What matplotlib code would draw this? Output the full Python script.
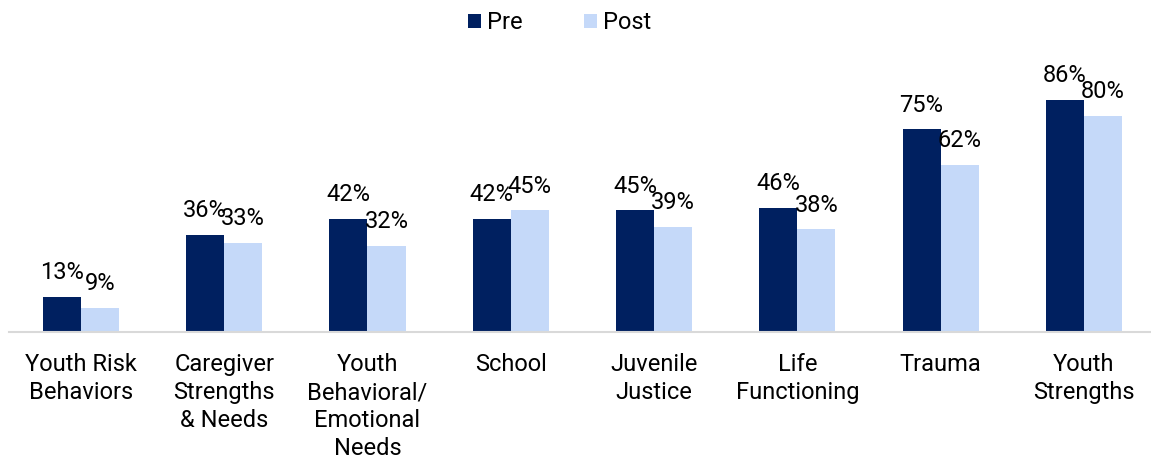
import numpy as np
import matplotlib.pyplot as plt

plt.rcParams['font.family'] = ['Roboto', 'DejaVu Sans']

categories = ['Youth Risk\nBehaviors', 'Caregiver\nStrengths\n& Needs',
              'Youth\nBehavioral/\nEmotional\nNeeds', 'School', 'Juvenile\nJustice',
              'Life\nFunctioning', 'Trauma', 'Youth\nStrengths']
pre = [13, 36, 42, 42, 45, 46, 75, 86]
post = [9, 33, 32, 45, 39, 38, 62, 80]

PRE_COLOR = '#002060'
POST_COLOR = '#C5D9F9'

fig = plt.figure(figsize=(11.51, 4.62), dpi=100)
ax = fig.add_axes([0.008, 0.2814, 0.996, 0.5844])

x = np.arange(len(categories))
width = 0.266
b1 = ax.bar(x - width / 2, pre, width, color=PRE_COLOR, label='Pre')
b2 = ax.bar(x + width / 2, post, width, color=POST_COLOR, label='Post')

for bars, vals in ((b1, pre), (b2, post)):
    for bar, v in zip(bars, vals):
        ax.annotate(f'{v}%', (bar.get_x() + bar.get_width() / 2, v),
                    xytext=(0, 9), textcoords='offset points',
                    ha='center', va='bottom', fontsize=17, color='#000000')

ax.set_xlim(-0.5, len(categories) - 0.5)
ax.set_ylim(0, 100)
ax.set_xticks(x)
ax.set_xticklabels(categories, fontsize=17, linespacing=1.29, va='top')
ax.tick_params(axis='x', length=0, pad=15)
ax.set_yticks([])
for side in ('top', 'right', 'left'):
    ax.spines[side].set_visible(False)
ax.spines['bottom'].set_color('#D9D9D9')
ax.spines['bottom'].set_linewidth(1.5)

fig.legend(loc='upper center', bbox_to_anchor=(0.486, 1.022), ncol=2, frameon=False,
           fontsize=17, handlelength=0.55, handleheight=0.55, handletextpad=0.25,
           columnspacing=2.6)

fig.savefig('out.png', dpi=100)
